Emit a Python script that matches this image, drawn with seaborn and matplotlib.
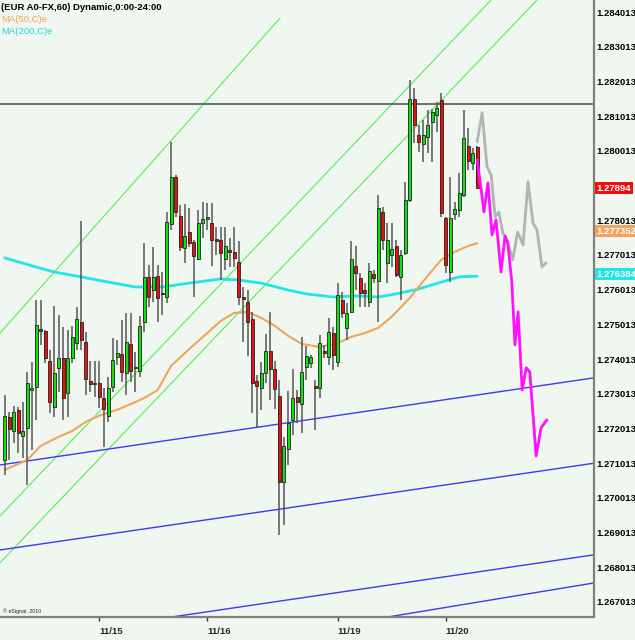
import numpy as np
import pandas as pd
import matplotlib
matplotlib.use("Agg")
import matplotlib.pyplot as plt
import matplotlib.transforms as mtrans
import seaborn as sns

# ---------------- data (hourly EUR bars) ----------------
opens = [1.27110, 1.27235, 1.27194, 1.27255, 1.27180, 1.27203, 1.27312, 1.27321, 1.27488, 1.27482,
         1.27396, 1.27263, 1.27376, 1.27404, 1.27303, 1.27404, 1.27447, 1.27508, 1.27450, 1.27338,
         1.27329, 1.27332, 1.27289, 1.27238, 1.27321, 1.27407, 1.27416, 1.27361, 1.27444, 1.27376,
         1.27367, 1.27508, 1.27638, 1.27600, 1.27641, 1.27588, 1.27580, 1.27790, 1.27926, 1.27814,
         1.27721, 1.27767, 1.27738, 1.27690, 1.27793, 1.27805, 1.27793, 1.27747, 1.27744, 1.27690,
         1.27716, 1.27710, 1.27681, 1.27580, 1.27565, 1.27517, 1.27338, 1.27318, 1.27361, 1.27424,
         1.27373, 1.27295, 1.27047, 1.27142, 1.27226, 1.27292, 1.27272, 1.27379, 1.27390, 1.27324,
         1.27318, 1.27424, 1.27407, 1.27476, 1.27393, 1.27571, 1.27491, 1.27537, 1.27670, 1.27635,
         1.27600, 1.27565, 1.27647, 1.27626, 1.27825, 1.27678, 1.27701, 1.27727, 1.27638, 1.27707,
         1.27860, 1.28151, 1.28047, 1.28021, 1.28041, 1.28084, 1.28105, 1.28148, 1.27808, 1.27652,
         1.27819, 1.27831, 1.27874, 1.28015, 1.27966, 1.28013]
highs = [1.27298, 1.27249, 1.27266, 1.27263, 1.27277, 1.27364, 1.27393, 1.27571, 1.27571, 1.27485,
         1.27427, 1.27554, 1.27529, 1.27494, 1.27485, 1.27497, 1.27551, 1.27799, 1.27479, 1.27396,
         1.27396, 1.27396, 1.27318, 1.27350, 1.27462, 1.27456, 1.27514, 1.27534, 1.27534, 1.27421,
         1.27526, 1.27735, 1.27673, 1.27724, 1.27673, 1.27652, 1.27825, 1.28027, 1.27932, 1.27845,
         1.27848, 1.27837, 1.27744, 1.27831, 1.27854, 1.27851, 1.27851, 1.27782, 1.27782, 1.27782,
         1.27750, 1.27782, 1.27741, 1.27609, 1.27600, 1.27537, 1.27355, 1.27393, 1.27474, 1.27537,
         1.27396, 1.27341, 1.27177, 1.27309, 1.27373, 1.27312, 1.27465, 1.27439, 1.27413, 1.27341,
         1.27471, 1.27442, 1.27520, 1.27494, 1.27620, 1.27594, 1.27562, 1.27741, 1.27727, 1.27649,
         1.27620, 1.27678, 1.27658, 1.27874, 1.27840, 1.27793, 1.27793, 1.27744, 1.27716, 1.27911,
         1.28205, 1.28182, 1.28076, 1.28090, 1.28119, 1.28122, 1.28142, 1.28168, 1.27811, 1.27926,
         1.27854, 1.27938, 1.28119, 1.28067, 1.28010, 1.28016]
lows = [1.27068, 1.27110, 1.27159, 1.27130, 1.27116, 1.27039, 1.27139, 1.27226, 1.27442, 1.27390,
        1.27246, 1.27235, 1.27306, 1.27226, 1.27235, 1.27390, 1.27427, 1.27427, 1.27298, 1.27306,
        1.27292, 1.27260, 1.27148, 1.27220, 1.27306, 1.27384, 1.27335, 1.27298, 1.27335, 1.27306,
        1.27350, 1.27479, 1.27551, 1.27565, 1.27508, 1.27529, 1.27562, 1.27773, 1.27811, 1.27713,
        1.27678, 1.27724, 1.27580, 1.27687, 1.27750, 1.27773, 1.27670, 1.27701, 1.27629, 1.27658,
        1.27667, 1.27667, 1.27557, 1.27450, 1.27410, 1.27246, 1.27206, 1.27255, 1.27332, 1.27283,
        1.27257, 1.26895, 1.26923, 1.27096, 1.27182, 1.27217, 1.27188, 1.27341, 1.27376, 1.27197,
        1.27289, 1.27404, 1.27384, 1.27370, 1.27379, 1.27520, 1.27456, 1.27534, 1.27600, 1.27551,
        1.27551, 1.27551, 1.27620, 1.27508, 1.27716, 1.27620, 1.27667, 1.27638, 1.27571, 1.27701,
        1.27854, 1.28024, 1.27998, 1.27969, 1.27995, 1.27969, 1.28056, 1.27811, 1.27649, 1.27623,
        1.27802, 1.27811, 1.27868, 1.27946, 1.27946, 1.27906]
closes = [1.27238, 1.27200, 1.27249, 1.27188, 1.27194, 1.27332, 1.27318, 1.27500, 1.27482, 1.27404,
          1.27277, 1.27361, 1.27404, 1.27289, 1.27404, 1.27465, 1.27517, 1.27456, 1.27344, 1.27329,
          1.27329, 1.27292, 1.27257, 1.27318, 1.27399, 1.27418, 1.27364, 1.27450, 1.27367, 1.27379,
          1.27497, 1.27638, 1.27580, 1.27638, 1.27577, 1.27591, 1.27796, 1.27926, 1.27825, 1.27724,
          1.27756, 1.27735, 1.27698, 1.27793, 1.27805, 1.27811, 1.27744, 1.27741, 1.27707, 1.27727,
          1.27710, 1.27693, 1.27580, 1.27574, 1.27508, 1.27332, 1.27324, 1.27361, 1.27424, 1.27373,
          1.27315, 1.27047, 1.27151, 1.27217, 1.27289, 1.27277, 1.27364, 1.27410, 1.27407, 1.27318,
          1.27447, 1.27418, 1.27479, 1.27413, 1.27585, 1.27534, 1.27534, 1.27690, 1.27649, 1.27591,
          1.27591, 1.27655, 1.27635, 1.27837, 1.27744, 1.27744, 1.27718, 1.27643, 1.27701, 1.27860,
          1.28151, 1.28076, 1.28027, 1.28047, 1.28076, 1.28113, 1.28125, 1.27822, 1.27673, 1.27808,
          1.27834, 1.27880, 1.28038, 1.27972, 1.27995, 1.27894]

# moving averages read at sample bars
ma50_bar = [0, 5, 8, 12, 15, 18, 21, 25, 29, 31, 34, 37, 41, 45, 48, 51, 54, 57, 60, 63, 66,
            70, 74, 77, 80, 83, 86, 90, 94, 97, 100, 103, 105]
ma50_val = [1.27082, 1.27110, 1.27151, 1.27177, 1.27194, 1.27220, 1.27238, 1.27255, 1.27277,
            1.27289, 1.27312, 1.27382, 1.27430, 1.27476, 1.27511, 1.27534, 1.27537, 1.27520,
            1.27497, 1.27468, 1.27445, 1.27436, 1.27447, 1.27465, 1.27476, 1.27491, 1.27523,
            1.27577, 1.27641, 1.27687, 1.27710, 1.27727, 1.27735]
ma200_bar = [0, 6, 11, 17, 23, 29, 35, 41, 48, 52, 57, 63, 67, 73, 78, 83, 87, 92, 97, 101, 105]
ma200_val = [1.27693, 1.27670, 1.27652, 1.27638, 1.27623, 1.27609, 1.27609, 1.27620, 1.27632,
             1.27629, 1.27620, 1.27600, 1.27589, 1.27580, 1.27583, 1.27580, 1.27589, 1.27603,
             1.27623, 1.27638, 1.27640]

# projected paths
grey_bar = [105, 106.1, 107.2, 108.1, 109.0, 109.8, 110.7, 111.8, 112.9, 114.0, 115.2, 116.3,
            117.4, 118.3, 119.4, 120.3]
grey_val = [1.28027, 1.28111, 1.27955, 1.27932, 1.27811, 1.27825, 1.27765, 1.27739, 1.27687,
            1.27767, 1.27730, 1.27912, 1.27793, 1.27773, 1.27667, 1.27678]
mag_bar = [105, 105.9, 106.5, 107.4, 108.3, 109.2, 110.3, 111.2, 111.8, 112.7, 113.4, 114.1,
           115.0, 115.9, 116.7, 118.1, 119.2, 120.5]
mag_val = [1.27975, 1.27889, 1.27825, 1.27909, 1.27759, 1.27802, 1.27652, 1.27756, 1.27736,
           1.27623, 1.27442, 1.27537, 1.27312, 1.27376, 1.27364, 1.27122, 1.27203, 1.27226]

# trend lines: two anchor points each (bar, price)
green_segment = ((-1.04, 1.27476), (61.2, 1.28384))
green_rays = [((-1.04, 1.26949), (108.1, 1.28436)),
              ((-1.04, 1.26814), (118.3, 1.28436))]
blue_lines = [((-1.04, 1.27096), (130.96, 1.27347)),
              ((-1.04, 1.26851), (130.96, 1.27101)),
              ((37.2, 1.26658), (130.96, 1.26837)),
              ((85.2, 1.26658), (130.96, 1.26756))]
hline_level = 1.28136

tick_bars = [21, 45, 74, 98]
tick_names = ["11/15", "11/16", "11/19", "11/20"]
# 1.279013 is hidden behind the last-price box in the original
price_ticks = [1.267013 + 0.001 * k for k in range(18) if k != 12]

last_close_label = "1.27894"
ma50_label = "1.277352"
ma200_label = "1.276384"

# ---------------- style ----------------
BG = "#F0F7F0"
sns.set_theme(style="white")
plt.rcParams["font.family"] = ["Liberation Sans", "DejaVu Sans"]

fig = plt.figure(figsize=(6.35, 6.40), dpi=100, facecolor=BG)
ax = fig.add_axes([0.0, 0.0359, 0.9354, 0.9641])
ax.set_facecolor(BG)

df = pd.DataFrame({"bar": np.arange(len(opens)), "open": opens, "high": highs,
                   "low": lows, "close": closes})
up = df["close"] >= df["open"]

# trend lines
(sx0, sy0), (sx1, sy1) = green_segment
ax.plot([sx0, sx1], [sy0, sy1], color="#55EE55", lw=0.8, zorder=1)
for p1, p2 in green_rays:
    ax.axline(p1, p2, color="#55EE55", lw=0.8, zorder=1)
for p1, p2 in blue_lines:
    ax.axline(p1, p2, color="#3A3AF0", lw=1.0, zorder=1)
ax.axhline(hline_level, color="#555555", lw=1.2, zorder=1)

# moving averages
sns.lineplot(x=ma200_bar, y=ma200_val, ax=ax, color="#22E6E6", lw=2.0, zorder=2)
sns.lineplot(x=ma50_bar, y=ma50_val, ax=ax, color="#F2A45A", lw=1.5, zorder=2)

# candles
ax.vlines(df["bar"], df["low"], df["high"], color="#555555", lw=1.1, zorder=3)
body = (df["close"] - df["open"]).abs().clip(lower=0.000025)
bottom = df[["open", "close"]].min(axis=1)
ax.bar(df["bar"][up], body[up], bottom=bottom[up], width=0.7, color="#10E010",
       edgecolor="#202020", linewidth=0.6, zorder=4)
ax.bar(df["bar"][~up], body[~up], bottom=bottom[~up], width=0.7, color="#E81010",
       edgecolor="#202020", linewidth=0.6, zorder=4)

# projections
sns.lineplot(x=grey_bar, y=grey_val, ax=ax, color="#B4B4B4", lw=2.0, zorder=5,
             sort=False, estimator=None)
sns.lineplot(x=mag_bar, y=mag_val, ax=ax, color="#FF10FF", lw=2.0, zorder=5,
             sort=False, estimator=None)

# axes
ax.set_xlim(-1.04, 130.96)
ax.set_ylim(1.266578, 1.284359)
ax.yaxis.tick_right()
ax.set_yticks(price_ticks)
ax.set_yticklabels([f"{v:.6f}" for v in price_ticks])
ax.tick_params(axis="y", length=0, pad=1.5, labelsize=6.8, labelcolor="black")
for t in ax.get_yticklabels():
    t.set_fontweight("bold")
ax.set_xticks(tick_bars)
ax.set_xticklabels(tick_names)
ax.tick_params(axis="x", length=3, width=1, color="#333333", pad=4, labelsize=6.8,
               direction="out", bottom=True)
for t in ax.get_xticklabels():
    t.set_fontweight("bold")
    t.set_horizontalalignment("left")
for s in ["top", "left"]:
    ax.spines[s].set_visible(False)
for s in ["right", "bottom"]:
    ax.spines[s].set_color("#808080")
    ax.spines[s].set_linewidth(1.6)
ax.set_xlabel("")
ax.set_ylabel("")
ax.grid(False)

# value boxes on right axis
tr = mtrans.blended_transform_factory(ax.transAxes, ax.transData)
ax.annotate(last_close_label, xy=(1.0, closes[-1]), xycoords=tr, xytext=(2, 0),
            textcoords="offset points", ha="left", va="center", color="white",
            fontsize=6.8, fontweight="bold", annotation_clip=False,
            bbox=dict(boxstyle="square,pad=0.18", fc="#F01010", ec="none"))
ax.annotate(ma50_label, xy=(1.0, ma50_val[-1]), xycoords=tr, xytext=(1.5, 8.5),
            textcoords="offset points", ha="left", va="center", color="white",
            fontsize=6.8, fontweight="bold", annotation_clip=False,
            bbox=dict(boxstyle="square,pad=0.15", fc="#F2A45A", ec="none"))
ax.annotate(ma200_label, xy=(1.0, ma200_val[-1]), xycoords=tr, xytext=(1.5, 1.5),
            textcoords="offset points", ha="left", va="center", color="white",
            fontsize=6.8, fontweight="bold", annotation_clip=False,
            bbox=dict(boxstyle="square,pad=0.15", fc="#22E6E6", ec="none"))

# header texts
fig.text(0.002, 0.989, "(EUR A0-FX,60) Dynamic,0:00-24:00", fontsize=6.8,
         fontweight="bold", color="black", va="center", ha="left")
fig.text(0.002, 0.970, "MA(50,C)e", fontsize=6.8, color="#F2A45A", va="center", ha="left")
fig.text(0.002, 0.951, "MA(200,C)e", fontsize=6.8, color="#22D8D8", va="center", ha="left")
fig.text(0.004, 0.0453, "\u00a9 eSignal, 2010", fontsize=3.8, color="#222222",
         va="center", ha="left")

fig.savefig("out.png", dpi=100, facecolor=BG)
